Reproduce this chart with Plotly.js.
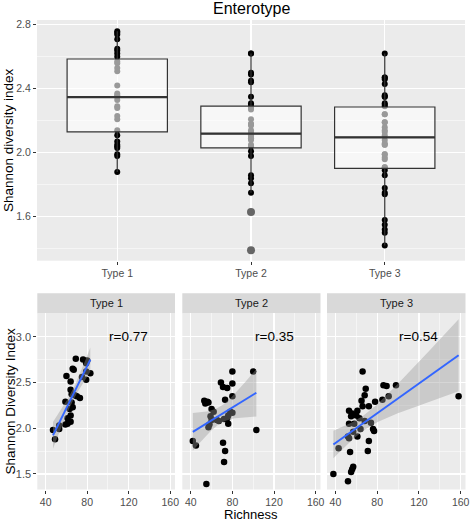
<!DOCTYPE html>
<html>
<head>
<meta charset="utf-8">
<script src="https://cdn.plot.ly/plotly-3.0.1.min.js"></script>
<style>html,body{margin:0;padding:0;background:#fff;}#chart{width:472px;height:523px;}</style>
</head>
<body>
<div id="chart"></div>
<script>
// ---------- data ----------
var typeLabels = ["Type 1", "Type 2", "Type 3"];
var rLabels = ["r=0.77", "r=0.35", "r=0.54"];

// box statistics
var boxQ1 = [2.131, 2.031, 1.902];
var boxMedian = [2.348, 2.119, 2.096];
var boxQ3 = [2.586, 2.292, 2.286];
var boxLowerFence = [1.88, 1.75, 1.42];
var boxUpperFence = [2.76, 2.62, 2.62];

// Type 1: richness and Shannon index
var rich1 = [69, 76, 80, 79, 66, 67, 79, 83, 60, 75, 79, 64, 64, 65, 68, 70, 73, 59, 65, 66, 63, 64, 61, 64, 61, 59, 53, 53, 47, 49];
var shan1 = [2.76, 2.75, 2.74, 2.71, 2.65, 2.64, 2.62, 2.60, 2.57, 2.56, 2.53, 2.51, 2.42, 2.37, 2.36, 2.35, 2.33, 2.29, 2.28, 2.23, 2.21, 2.14, 2.11, 2.07, 2.05, 2.04, 2.03, 1.99, 1.98, 1.88];

// Type 2
var rich2 = [80, 100, 69, 80, 71, 75, 80, 73, 53, 56, 57, 54, 60, 62, 78, 80, 76, 59, 75, 65, 67, 72, 60, 76, 58, 57, 103, 42, 45, 71, 73, 72, 55];
var shan2 = [2.62, 2.62, 2.50, 2.49, 2.45, 2.44, 2.35, 2.31, 2.30, 2.29, 2.28, 2.27, 2.21, 2.18, 2.18, 2.17, 2.14, 2.13, 2.11, 2.09, 2.08, 2.10, 2.09, 2.05, 2.04, 2.01, 1.98, 1.86, 1.81, 1.84, 1.75, 1.63, 1.39];

// Type 3
var rich3 = [66, 86, 89, 98, 69, 68, 91, 158, 85, 65, 78, 72, 66, 53, 61, 56, 60, 55, 63, 68, 53, 58, 74, 76, 77, 64, 57, 52, 53, 61, 72, 43, 71, 54, 57, 56, 55, 38, 52];
var shan3 = [2.62, 2.47, 2.46, 2.47, 2.43, 2.36, 2.35, 2.35, 2.31, 2.30, 2.29, 2.24, 2.24, 2.19, 2.19, 2.16, 2.14, 2.13, 2.11, 2.08, 2.05, 2.05, 2.06, 1.99, 1.97, 1.99, 1.96, 1.91, 1.89, 1.91, 1.86, 1.78, 1.75, 1.74, 1.58, 1.55, 1.52, 1.50, 1.42];

var richAll = [rich1, rich2, rich3];
var shanAll = [shan1, shan2, shan3];

// ---------- helpers ----------
var W = 472, H = 523;
function px(x) { return x / W; }
function py(y) { return 1 - y / H; }
var FONT = "Liberation Sans, Arial, sans-serif";

function tq975(df) {
  var z = 1.959964;
  var g1 = (Math.pow(z,3) + z) / 4;
  var g2 = (5*Math.pow(z,5) + 16*Math.pow(z,3) + 3*z) / 96;
  var g3 = (3*Math.pow(z,7) + 19*Math.pow(z,5) + 17*Math.pow(z,3) - 15*z) / 384;
  return z + g1/df + g2/(df*df) + g3/(df*df*df);
}

function lmFit(xs, ys) {
  var n = xs.length, xb = 0, yb = 0;
  for (var i = 0; i < n; i++) { xb += xs[i]; yb += ys[i]; }
  xb /= n; yb /= n;
  var sxx = 0, sxy = 0;
  for (i = 0; i < n; i++) { sxx += (xs[i]-xb)*(xs[i]-xb); sxy += (xs[i]-xb)*(ys[i]-yb); }
  var b = sxy / sxx, a = yb - b * xb, sse = 0;
  for (i = 0; i < n; i++) { var r = ys[i] - (a + b*xs[i]); sse += r*r; }
  var s = Math.sqrt(sse / (n - 2)), t = tq975(n - 2);
  var xmin = Math.min.apply(null, xs), xmax = Math.max.apply(null, xs);
  var gx = [], fit = [], lo = [], hi = [];
  for (i = 0; i < 80; i++) {
    var x0 = xmin + (xmax - xmin) * i / 79;
    var f = a + b * x0;
    var se = s * Math.sqrt(1/n + (x0-xb)*(x0-xb)/sxx);
    gx.push(x0); fit.push(f); lo.push(f - t*se); hi.push(f + t*se);
  }
  return {gx: gx, fit: fit, lo: lo, hi: hi};
}

var traces = [];

// ---------- top panel: points (base layer) ----------
var topX = [], topY = [];
for (var k = 0; k < 3; k++) {
  for (var j = 0; j < shanAll[k].length; j++) { topX.push(k); topY.push(shanAll[k][j]); }
}
traces.push({type:'scatter', mode:'markers', x: topX, y: topY, xaxis:'x', yaxis:'y',
  marker:{color:'#000000', size:6}, hoverinfo:'skip', showlegend:false});

// ---------- top panel: boxes (overlay layer) ----------
traces.push({type:'box', xaxis:'x2', yaxis:'y2', x:[0,1,2],
  q1: boxQ1, median: boxMedian, q3: boxQ3, lowerfence: boxLowerFence, upperfence: boxUpperFence,
  width: 0.75, whiskerwidth: 0, boxpoints: false,
  fillcolor:'rgba(255,255,255,0.6)', line:{color:'#333333', width:1.2},
  hoverinfo:'skip', showlegend:false});

var medX = [], medY = [];
for (k = 0; k < 3; k++) { medX.push(k - 0.375, k + 0.375, null); medY.push(boxMedian[k], boxMedian[k], null); }
traces.push({type:'scatter', mode:'lines', x: medX, y: medY, xaxis:'x2', yaxis:'y2',
  line:{color:'#333333', width:2.3}, hoverinfo:'skip', showlegend:false});

var outX = [], outY = [];
for (k = 0; k < 3; k++) {
  for (j = 0; j < shanAll[k].length; j++) {
    var v = shanAll[k][j];
    if (v < boxLowerFence[k] - 1e-9 || v > boxUpperFence[k] + 1e-9) { outX.push(k); outY.push(v); }
  }
}
traces.push({type:'scatter', mode:'markers', x: outX, y: outY, xaxis:'x2', yaxis:'y2',
  marker:{color:'#666666', size:8}, hoverinfo:'skip', showlegend:false});

// ---------- bottom facets ----------
var axN = ['3', '4', '5'];
for (k = 0; k < 3; k++) {
  var fitK = lmFit(richAll[k], shanAll[k]);
  var xa = 'x' + axN[k], ya = 'y' + axN[k];
  traces.push({type:'scatter', mode:'markers', x: richAll[k], y: shanAll[k], xaxis: xa, yaxis: ya,
    marker:{color:'#000000', size:6.5}, hoverinfo:'skip', showlegend:false});
  traces.push({type:'scatter', mode:'lines', x: fitK.gx.concat(fitK.gx.slice().reverse()),
    y: fitK.hi.concat(fitK.lo.slice().reverse()), fill:'toself', fillcolor:'rgba(153,153,153,0.4)',
    line:{width:0, color:'rgba(0,0,0,0)'}, xaxis: xa, yaxis: ya, hoverinfo:'skip', showlegend:false});
  traces.push({type:'scatter', mode:'lines', x: fitK.gx, y: fitK.fit, xaxis: xa, yaxis: ya,
    line:{color:'#3366FF', width:2}, hoverinfo:'skip', showlegend:false});
}

// ---------- layout ----------
var tickFont = {family: FONT, size: 10.5, color: '#4D4D4D'};
function baseAxis(extra) {
  var a = {showline:false, zeroline:false, showgrid:true, gridcolor:'#FFFFFF', gridwidth:1.1,
    ticks:'outside', ticklen:3, tickwidth:1, tickcolor:'#333333', tickfont: tickFont, fixedrange:true};
  for (var key in extra) a[key] = extra[key];
  return a;
}

var topXDom = [px(37), px(465)], topYDom = [py(260.7), py(20)];
var botYDom = [py(489.5), py(313.3)];
var botXDoms = [[px(37.3), px(175)], [px(182.3), px(320.5)], [px(327), px(465.5)]];
var xRange = [31.9, 164.6], yRangeB = [1.33, 3.256];

var layout = {
  width: W, height: H, margin:{l:0, r:0, t:0, b:0},
  paper_bgcolor:'#FFFFFF', plot_bgcolor:'#EBEBEB', showlegend:false,
  font:{family: FONT},
  xaxis: baseAxis({domain: topXDom, anchor:'y', range:[-0.6, 2.6], tickmode:'array', tickvals:[0,1,2], ticktext: typeLabels}),
  yaxis: baseAxis({domain: topYDom, anchor:'x', range:[1.325, 2.83], tickmode:'linear', tick0:0, dtick:0.4, tickformat:'.1f',
    minor:{dtick:0.2, tick0:0, showgrid:true, gridcolor:'#FFFFFF', gridwidth:0.5, ticks:''}}),
  xaxis2: {overlaying:'x', anchor:'y2', range:[-0.6, 2.6], visible:false, showgrid:false, zeroline:false, fixedrange:true},
  yaxis2: {overlaying:'y', anchor:'x2', range:[1.325, 2.83], visible:false, showgrid:false, zeroline:false, fixedrange:true},
  shapes: [], annotations: []
};

var bTickFont = {family: FONT, size: 10.5, color: '#4D4D4D'};
for (k = 0; k < 3; k++) {
  layout['xaxis' + axN[k]] = baseAxis({domain: botXDoms[k], anchor: 'y' + axN[k], range: xRange,
    tickmode:'linear', tick0:40, dtick:40, tickfont: bTickFont,
    minor:{dtick:20, tick0:0, showgrid:true, gridcolor:'#FFFFFF', gridwidth:0.5, ticks:''}});
  layout['yaxis' + axN[k]] = baseAxis({domain: botYDom, anchor: 'x' + axN[k], range: yRangeB,
    tickmode:'linear', tick0:0, dtick:0.5, tickformat:'.1f', tickfont: {family: FONT, size: 11, color: '#4D4D4D'},
    showticklabels: k === 0, ticks: k === 0 ? 'outside' : '',
    minor:{dtick:0.25, tick0:0, showgrid:true, gridcolor:'#FFFFFF', gridwidth:0.5, ticks:''}});
  // strip
  layout.shapes.push({type:'rect', xref:'paper', yref:'paper', x0: botXDoms[k][0], x1: botXDoms[k][1],
    y0: py(313.3), y1: py(293.3), fillcolor:'#D9D9D9', line:{width:0}, layer:'below'});
  layout.annotations.push({xref:'paper', yref:'paper', x:(botXDoms[k][0] + botXDoms[k][1]) / 2, y: py(303.3),
    text: typeLabels[k], showarrow:false, xanchor:'center', yanchor:'middle',
    font:{family: FONT, size: 11, color:'#1A1A1A'}});
  layout.annotations.push({xref: 'x' + axN[k], yref: 'y' + axN[k], x: 120, y: 3.0, text: rLabels[k],
    showarrow:false, xanchor:'center', yanchor:'middle', font:{family: FONT, size: 13.5, color:'#000000'}});
}

layout.annotations.push({xref:'paper', yref:'paper', x:(topXDom[0] + topXDom[1]) / 2, y: py(9),
  text:'Enterotype', showarrow:false, xanchor:'center', yanchor:'middle', font:{family: FONT, size: 16, color:'#000000'}});
layout.annotations.push({xref:'paper', yref:'paper', x: px(8), y: py(140), textangle:-90,
  text:'Shannon diversity index', showarrow:false, xanchor:'center', yanchor:'middle', font:{family: FONT, size: 13.5, color:'#000000'}});
layout.annotations.push({xref:'paper', yref:'paper', x: px(10), y: py(401.5), textangle:-90,
  text:'Shannon Diversity Index', showarrow:false, xanchor:'center', yanchor:'middle', font:{family: FONT, size: 13.5, color:'#000000'}});
layout.annotations.push({xref:'paper', yref:'paper', x: px(251), y: py(523),
  text:'Richness', showarrow:false, xanchor:'center', yanchor:'bottom', borderpad:0, font:{family: FONT, size: 13, color:'#000000'}});

Plotly.newPlot('chart', traces, layout, {displayModeBar:false, staticPlot:true});
</script>
</body>
</html>
